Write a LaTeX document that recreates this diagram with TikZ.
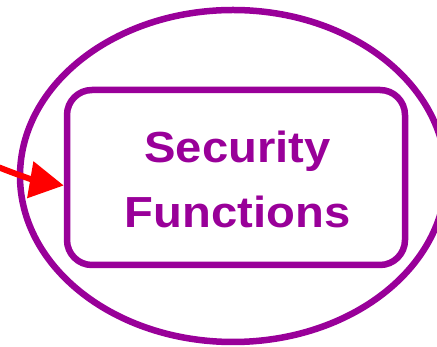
\documentclass[tikz,border=0pt]{standalone}
\usepackage{fontspec}
\setmainfont{Liberation Sans}
\usetikzlibrary{arrows.meta,shapes.geometric}
\definecolor{purp}{HTML}{990099}
\begin{document}
\begin{tikzpicture}[x=1pt,y=1pt,
  outline/.style={draw=purp,line width=6.5pt},
  box/.style={outline,rounded corners=25pt,minimum width=338pt,minimum height=175pt,inner sep=0pt},
  arr/.style={draw=red,line width=6pt,-{Triangle[length=34pt,width=36pt]}},
  lbltext/.style={text=purp,inner sep=0pt,anchor=base,font=\fontsize{43.5}{65}\selectfont\bfseries}]
\useasboundingbox (0,0) rectangle (437,347);
\begin{scope}
\clip (0,0) rectangle (437,347);
\node[outline,ellipse,minimum width=426pt,minimum height=332pt,inner sep=0pt] (ell) at (233,171) {};
\end{scope}
\node[box] (fn) at (236,169.5) {};
\node[lbltext] (lbl) at (237.5,184) {\scalebox{1.085}[1]{\begin{tabular}[t]{@{}c@{}}Security\\Functions\end{tabular}}};
\coordinate (start) at (-2,180);
\draw[arr] (start) to[bend right=6] ([yshift=-8pt]fn.west);
\end{tikzpicture}
\end{document}
